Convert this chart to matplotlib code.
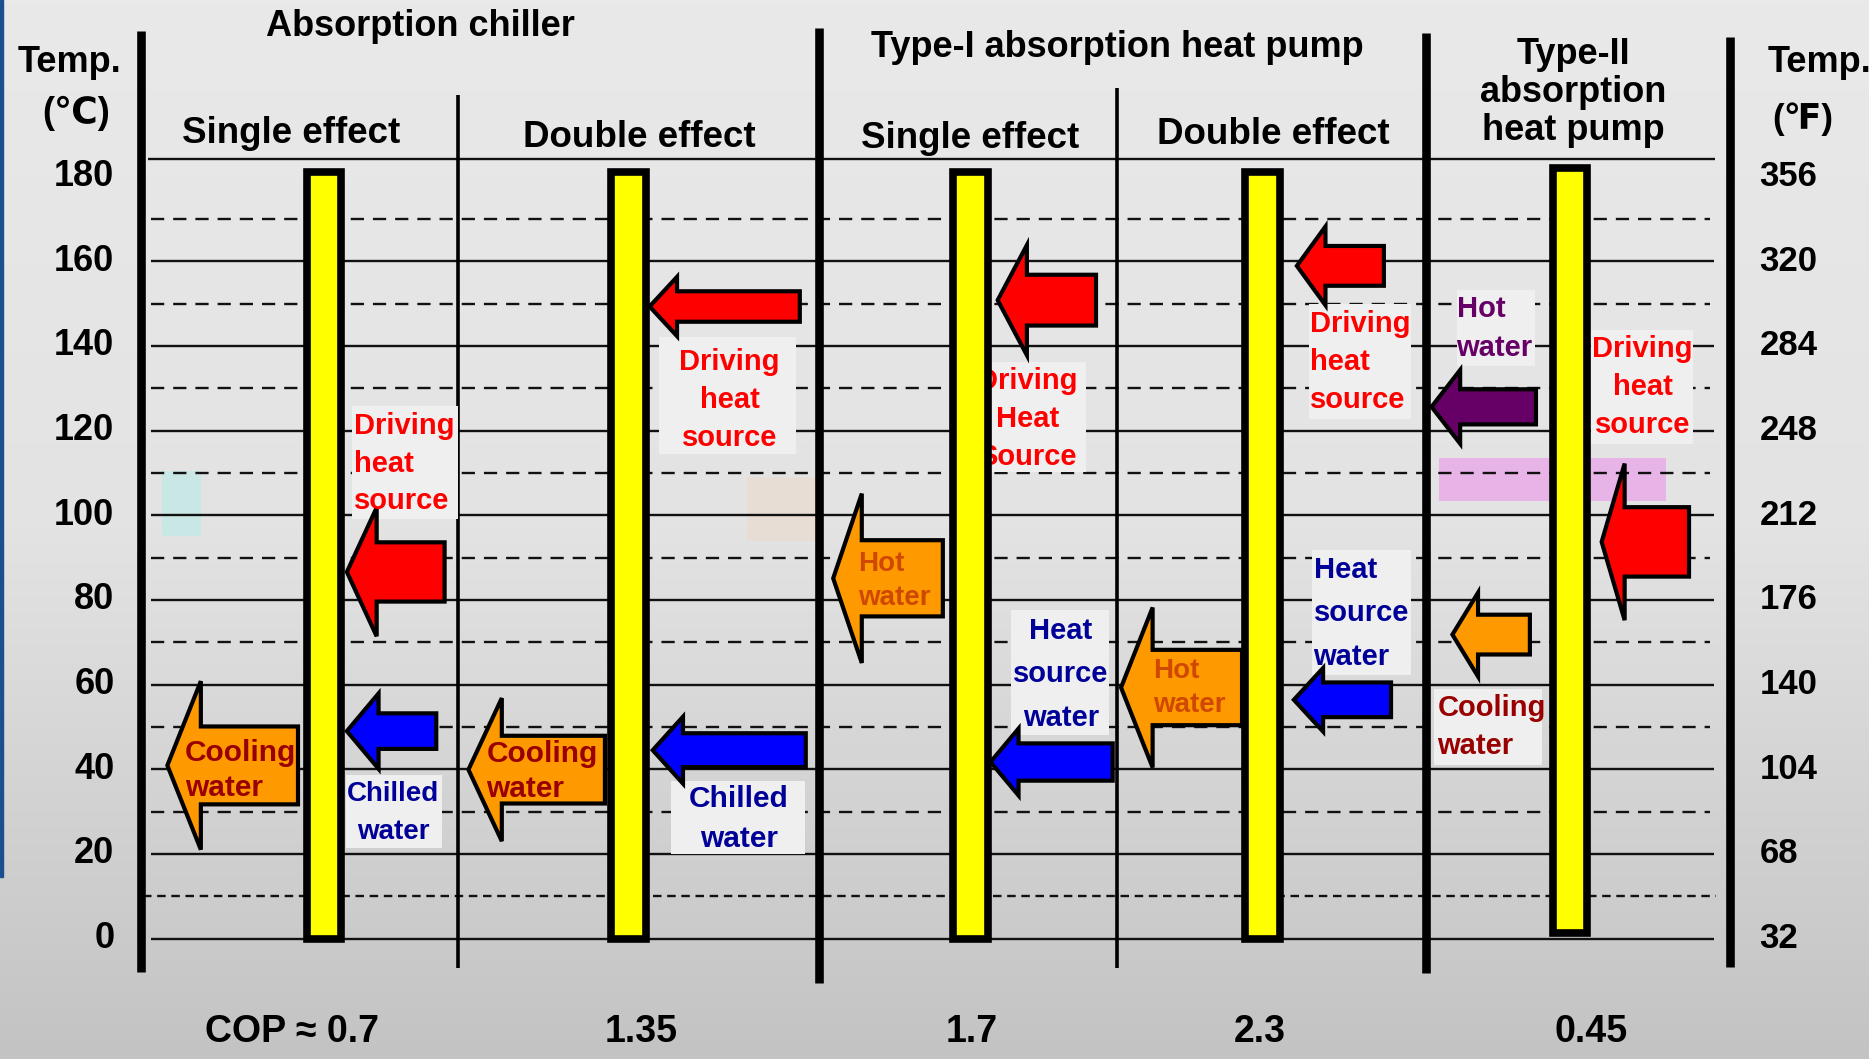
import matplotlib.pyplot as plt
import matplotlib.patches as mpatches
from matplotlib.colors import LinearSegmentedColormap
import numpy as np

plt.rcParams['font.family'] = ['Liberation Sans', 'DejaVu Sans']
plt.rcParams['font.weight'] = 'bold'

# x is the slide layout position (0..1568), y is the temperature in degC
celsius_ticks = [0, 20, 40, 60, 80, 100, 120, 140, 160, 180]
fahrenheit_labels = [32, 68, 104, 140, 176, 212, 248, 284, 320, 356]
solid_temps = [0, 20, 40, 60, 80, 100, 120, 140, 160]
dashed_temps = [30, 50, 70, 90, 110, 130, 150, 170]
header_temp = 184.2

group_titles = ['Absorption chiller', 'Type-I absorption heat pump', 'Type-II\nabsorption\nheat pump']
group_x = [353, 937, 1320]
group_t = [215.5, 210.4, 199.9]

sub_titles = ['Single effect', 'Double effect', 'Single effect', 'Double effect']
sub_x = [244, 536, 814, 1068]
sub_t = [190.1, 189.3, 189.0, 189.9]

# the yellow temperature bars, one per machine
bar_x = [272, 527.5, 814, 1059, 1317]
bar_bottom = [0, 0, 0, 0, 1.2]
bar_top = [181, 181, 181, 181, 182]
cop_labels = ['COP \u2248 0.7', '1.35', '1.7', '2.3', '0.45']
cop_x = [245, 538, 815, 1057, 1335]

# block arrows (all point left)
arrow_color = ['#ff0000', '#0000ff', '#ff9900', '#ff0000', '#ff9900', '#0000ff', '#ff0000', '#ff9900',
               '#0000ff', '#ff0000', '#ff9900', '#0000ff', '#660066', '#ff0000', '#ff9900']
arrow_tip = [291, 291, 140.4, 545, 393, 547.6, 837, 699, 831, 1088, 940.5, 1085.5, 1201, 1343.7, 1218.5]
arrow_neck = [316, 317.6, 168.5, 568, 421, 573, 861.5, 723, 854.5, 1112, 967, 1110, 1225, 1363, 1240]
arrow_tail = [373, 366, 250, 671, 507.5, 676, 919.5, 791, 933.5, 1161, 1042, 1167, 1288.6, 1417, 1283.5]
arrow_temp = [86.6, 49.0, 40.9, 149.3, 39.9, 44.5, 150.8, 85.1, 41.7, 158.9, 59.3, 56.4, 125.6, 93.7, 71.8]
arrow_body = [7.0, 4.2, 9.2, 3.6, 8.0, 4.0, 6.0, 9.0, 4.4, 4.7, 8.9, 4.1, 4.15, 8.2, 4.7]
arrow_head = [15.2, 8.9, 19.9, 7.0, 16.9, 7.9, 13.0, 20.0, 7.9, 9.3, 18.9, 7.5, 8.7, 18.5, 9.9]

# light label boxes: x0, x1, top temp, bottom temp
box_x0 = [295, 290, 553, 563, 818, 848.5, 1098.5, 1100.7, 1222.6, 1334.5, 1203]
box_x1 = [384, 371, 668, 675, 911, 930.3, 1183.6, 1183.6, 1287.8, 1420.6, 1293.6]
box_top = [125.9, 38.6, 142.0, 37.2, 136.2, 77.7, 149.9, 91.9, 153.2, 143.7, 59.0]
box_bot = [99.2, 21.4, 114.4, 20.0, 110.1, 48.0, 122.8, 62.2, 135.2, 116.9, 41.1]

red, navy, dred, hot, purple = '#ff0000', '#000099', '#990000', '#d04800', '#660066'
label_text = ['Driving\nheat\nsource', 'Chilled\nwater', 'Cooling\nwater',
              'Driving\nheat\nsource', 'Cooling\nwater', 'Chilled\nwater',
              'Driving\nHeat\nSource', 'Hot\nwater', 'Heat\nsource\nwater',
              'Hot\nwater', 'Driving\nheat\nsource', 'Heat\nsource\nwater',
              'Hot\nwater', 'Driving\nheat\nsource', 'Cooling\nwater']
label_x = [297, 330, 155, 612, 408, 620, 862, 720, 890, 967, 1099, 1102, 1222, 1378, 1206]
label_t = [112.2, 29.7, 39.6, 127.3, 39.4, 28.2, 122.8, 84.5, 62.4, 59.2, 136.2, 76.8, 144.1, 130.3, 50.0]
label_ha = ['left', 'center', 'left', 'center', 'left', 'center', 'center', 'left', 'center',
            'left', 'left', 'left', 'left', 'center', 'left']
label_color = [red, navy, dred, red, dred, navy, red, hot, navy, hot, red, navy, purple, red, dred]
label_size = [21, 20, 21.5, 21, 21.5, 21.5, 21, 20, 21, 20, 21, 21, 21, 21, 21]
label_ls = [1.45, 1.6, 1.32, 1.45, 1.32, 1.55, 1.45, 1.4, 1.69, 1.4, 1.47, 1.69, 1.46, 1.45, 1.46]

# faint coloured patches on the slide
tint_x0 = [135.6, 626.7, 1207.5]
tint_x1 = [168.5, 684.7, 1398]
tint_top = [110.4, 109.0, 113.4]
tint_bot = [95.0, 94.0, 103.4]
tint_color = ['#c9e7e5', '#e7ddd5', '#e8b3e6']

# frame lines: x, top temp, bottom temp, width
vline_x = [118, 384, 687.5, 937, 1196.5, 1451]
vline_top = [214.4, 199.2, 215.0, 201.0, 213.8, 212.9]
vline_bot = [-7.9, -7.0, -10.6, -7.0, -8.2, -6.8]
vline_lw = [6.2, 2.6, 6.2, 2.6, 6.2, 6.2]

fig = plt.figure(figsize=(18.69, 10.59), dpi=100)
ax = fig.add_axes([0, 0, 1, 1])
t_low, t_high = -28.45, 221.7
ax.set_xlim(0, 1568)
ax.set_ylim(t_low, t_high)
ax.axis('off')

cmap = LinearSegmentedColormap.from_list('bg', ['#e9e9e9', '#e3e3e3', '#c3c3c3'])
ax.imshow(np.linspace(0, 1, 256).reshape(-1, 1), extent=[0, 1568, t_low, t_high],
          cmap=cmap, aspect='auto', origin='upper', zorder=0)
ax.add_patch(mpatches.Rectangle((0, 14.6), 2.5, t_high - 14.6, color='#1c4f8e', zorder=1))

for x0, x1, tt, tb, c in zip(tint_x0, tint_x1, tint_top, tint_bot, tint_color):
    ax.add_patch(mpatches.Rectangle((x0, tb), x1 - x0, tt - tb, color=c, lw=0, zorder=1))

ax.hlines(solid_temps, 127, 1438, colors='#111111', lw=1.7, zorder=2)
ax.hlines(header_temp, 124, 1439, colors='#111111', lw=1.7, zorder=2)
ax.hlines(dashed_temps, 127, 1435, colors='#111111', lw=1.7, linestyles=(0, (5.6, 3.8)), zorder=2)
ax.hlines(10, 120, 1440, colors='#111111', lw=1.7, linestyles=(0, (3.6, 2.4)), zorder=2)
for x, tt, tb, lw in zip(vline_x, vline_top, vline_bot, vline_lw):
    ax.vlines(x, tb, tt, colors='black', lw=lw, zorder=2)

for x0, x1, tt, tb in zip(box_x0, box_x1, box_top, box_bot):
    ax.add_patch(mpatches.Rectangle((x0, tb), x1 - x0, tt - tb, color='#efefef', lw=0, zorder=3))

for c, xt, xn, xr, t, b, h in zip(arrow_color, arrow_tip, arrow_neck, arrow_tail,
                                  arrow_temp, arrow_body, arrow_head):
    pts = [(xt, t), (xn, t + h), (xn, t + b), (xr, t + b), (xr, t - b), (xn, t - b), (xn, t - h)]
    ax.add_patch(mpatches.Polygon(pts, closed=True, facecolor=c, edgecolor='black',
                                  lw=3, joinstyle='miter', zorder=4))

for s, x, t, ha, c, fs, ls in zip(label_text, label_x, label_t, label_ha, label_color,
                                  label_size, label_ls):
    ax.text(x, t, s, ha=ha, va='center', multialignment=ha, color=c, fontsize=fs,
            linespacing=ls, zorder=5)

ax.bar(bar_x, np.array(bar_top) - np.array(bar_bottom), bottom=bar_bottom, width=29,
       color='#ffff00', edgecolor='black', linewidth=5.5, zorder=6)

for s, x, t in zip(group_titles, group_x, group_t):
    ax.text(x, t, s, ha='center', va='center', fontsize=26, linespacing=1.12, zorder=7)
for s, x, t in zip(sub_titles, sub_x, sub_t):
    ax.text(x, t, s, ha='center', va='center', fontsize=26.5, zorder=7)

for c in celsius_ticks:
    ax.text(96, c, str(c), ha='right', va='center', fontsize=26, zorder=7)
for c, f in zip(celsius_ticks, fahrenheit_labels):
    ax.text(1476, c, str(f), ha='left', va='center', fontsize=25, zorder=7)

ax.text(58, 207, 'Temp.', ha='center', va='center', fontsize=26, zorder=7)
ax.text(64, 194.9, '(\u2103)', ha='center', va='center', fontsize=26, zorder=7)
ax.text(1483, 207, 'Temp.', ha='left', va='center', fontsize=26, zorder=7)
ax.text(1512, 193.5, '(\u2109)', ha='center', va='center', fontsize=25, zorder=7)

for s, x in zip(cop_labels, cop_x):
    ax.text(x, -22, s, ha='center', va='center', fontsize=27, zorder=7)

fig.savefig('out.png', dpi=100)
